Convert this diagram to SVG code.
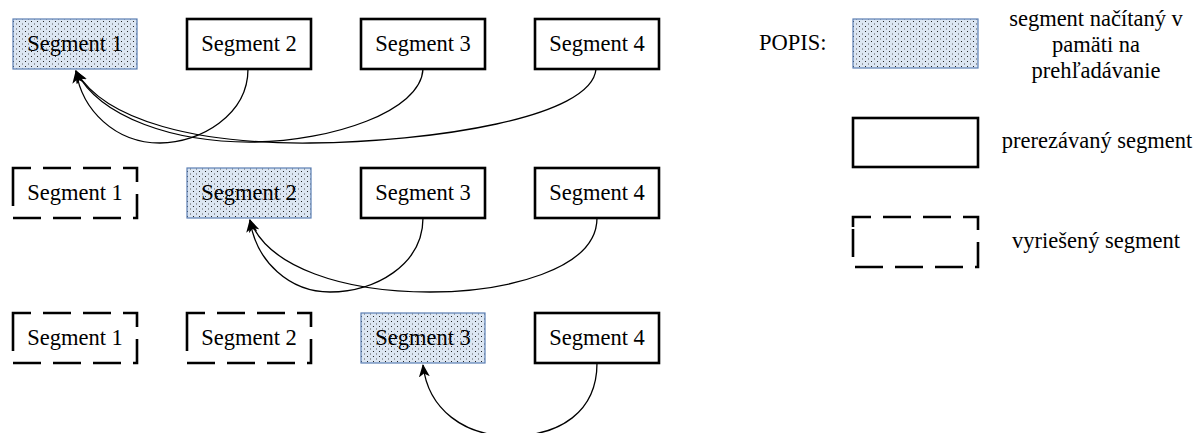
<svg xmlns="http://www.w3.org/2000/svg" width="1197" height="433" viewBox="0 0 1197 433">
  <style>
    text { font-family: "Liberation Serif", "Times New Roman", serif; font-size: 22.5px; fill: #000; }
    .lbl { text-anchor: middle; }
    .active { fill: url(#dots); stroke: #5b7fb4; stroke-width: 1.2; }
    .cut { fill: #fff; stroke: #000; stroke-width: 2.6; }
    .done { fill: none; stroke: #000; stroke-width: 2.6; stroke-dasharray: 28 12; }
    .link { fill: none; stroke: #000; stroke-width: 1.3; marker-end: url(#arrow); }
  </style>
  <defs>
    <pattern id="dots" width="6" height="5" patternUnits="userSpaceOnUse">
      <rect width="6" height="5" fill="#dce6f2"/>
      <rect x="1" y="1" width="1" height="1" fill="#222"/>
      <rect x="4" y="3.5" width="1" height="1" fill="#555"/>
    </pattern>
    <marker id="arrow" viewBox="0 0 13 11" refX="12" refY="5.5" markerWidth="13" markerHeight="11" markerUnits="userSpaceOnUse" orient="auto">
      <path d="M0,0 L13,5.5 L0,11 L3.5,5.5 Z" fill="#000"/>
    </marker>
  </defs>

  <!-- row 1: segment 1 loaded -->
  <g id="r1s1"><rect class="active" x="13" y="19" width="124" height="50"/><text class="lbl" x="75" y="51">Segment 1</text></g>
  <g id="r1s2"><rect class="cut" x="187" y="19" width="124" height="50"/><text class="lbl" x="249" y="51">Segment 2</text></g>
  <g id="r1s3"><rect class="cut" x="361" y="19" width="124" height="50"/><text class="lbl" x="423" y="51">Segment 3</text></g>
  <g id="r1s4"><rect class="cut" x="535" y="19" width="124" height="50"/><text class="lbl" x="597" y="51">Segment 4</text></g>

  <!-- row 2: segment 2 loaded -->
  <g id="r2s1"><path class="done" d="M13,178 V168 H137 V218 H13 Z"/><text class="lbl" x="75" y="200">Segment 1</text></g>
  <g id="r2s2"><rect class="active" x="187" y="168" width="124" height="50"/><text class="lbl" x="249" y="200">Segment 2</text></g>
  <g id="r2s3"><rect class="cut" x="361" y="168" width="124" height="50"/><text class="lbl" x="423" y="200">Segment 3</text></g>
  <g id="r2s4"><rect class="cut" x="535" y="168" width="124" height="50"/><text class="lbl" x="597" y="200">Segment 4</text></g>

  <!-- row 3: segment 3 loaded -->
  <g id="r3s1"><path class="done" d="M13,323 V313 H137 V363 H13 Z"/><text class="lbl" x="75" y="345">Segment 1</text></g>
  <g id="r3s2"><path class="done" d="M187,323 V313 H311 V363 H187 Z"/><text class="lbl" x="249" y="345">Segment 2</text></g>
  <g id="r3s3"><rect class="active" x="361" y="313" width="124" height="50"/><text class="lbl" x="423" y="345">Segment 3</text></g>
  <g id="r3s4"><rect class="cut" x="535" y="313" width="124" height="50"/><text class="lbl" x="597" y="345">Segment 4</text></g>

  <!-- legend -->
  <g id="legend">
    <text x="759" y="50">POPIS:</text>
    <rect class="active" x="853" y="19" width="125" height="49"/>
    <text class="lbl" x="1096" y="26">segment načítaný v</text>
    <text class="lbl" x="1096" y="52">pamäti na</text>
    <text class="lbl" x="1096" y="78">prehľadávanie</text>
    <rect class="cut" x="853" y="118" width="125" height="49"/>
    <text class="lbl" x="1097" y="148">prerezávaný segment</text>
    <path class="done" d="M853,227 V217 H978 V267 H853 Z"/>
    <text class="lbl" x="1096" y="248">vyriešený segment</text>
  </g>

  <!-- connectors -->
  <g id="connectors">
    <path class="link" d="M248,69 C248,115 200,143 160,143 C115,143 82,110 76,71"/>
    <path class="link" d="M423,69 C421,112 330,141 255,142 C175,143 100,118 76,71"/>
    <path class="link" d="M596,69 C592,118 430,142 310,143 C200,144 105,122 76,71"/>
    <path class="link" d="M423,218 C423,265 375,292 330,292 C290,292 256,262 250,220"/>
    <path class="link" d="M597,218 C597,270 505,292 430,292 C345,292 268,268 250,220"/>
    <path class="link" d="M597,363 C597,412 560,436 510,436 C465,436 428,410 423,365"/>
  </g>
</svg>
